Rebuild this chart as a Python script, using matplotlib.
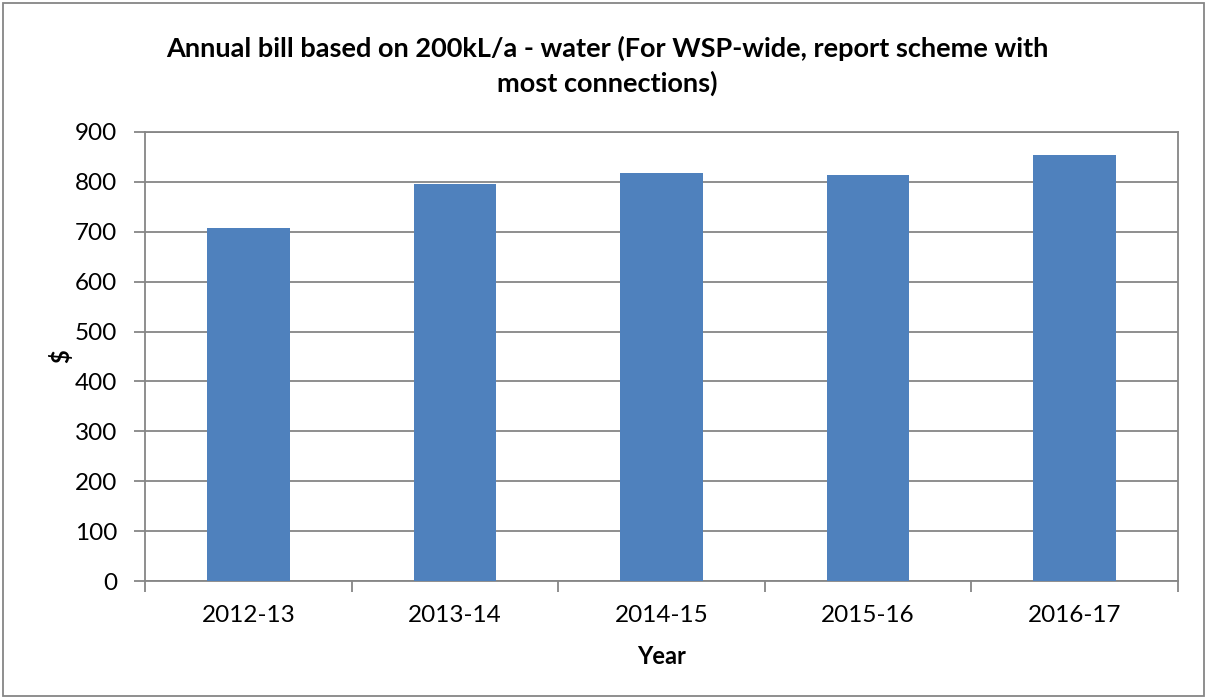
import matplotlib
matplotlib.use('Agg')
import matplotlib.pyplot as plt
from matplotlib.patches import Rectangle
import numpy as np

plt.rcParams['font.family'] = ['Lato', 'DejaVu Sans']

years = ['2012-13', '2013-14', '2014-15', '2015-16', '2016-17']
bill = [707, 796, 817, 813, 853]

grey = '#868686'

fig = plt.figure(figsize=(12.07, 6.99), dpi=100)
ax = fig.add_axes([145/1207, 1 - 581/699, (1178-145)/1207, (581-132)/699])

x = np.arange(len(years))
ax.bar(x, bill, width=0.4, color='#4F81BD', zorder=3)

ax.set_xlim(-0.5, len(years) - 0.5)
ax.set_ylim(0, 900)
ax.set_yticks(np.arange(0, 901, 100))
ax.set_xticks(x)
ax.set_xticklabels(years)
ax.set_xticks(np.arange(-0.5, len(years), 1), minor=True)
ax.tick_params(axis='x', which='major', length=0, pad=17, labelsize=17.5)
ax.tick_params(axis='x', which='minor', length=8, color=grey, width=1.3)
ax.tick_params(axis='y', length=8, color=grey, width=1.3, labelsize=17.5, pad=12)
ax.grid(axis='y', color=grey, lw=1.3, zorder=0)
for s in ax.spines.values():
    s.set_color(grey)
    s.set_linewidth(1.3)

ax.set_xlabel('Year', fontsize=17, fontweight='bold', labelpad=14)
ax.set_ylabel('$', fontsize=17, fontweight='bold', labelpad=1)

fig.text(607/1207, 1 - 48/699, 'Annual bill based on 200kL/a - water (For WSP-wide, report scheme with',
         ha='center', va='center', fontsize=19.5, fontweight='bold')
fig.text(607/1207, 1 - 83/699, 'most connections)',
         ha='center', va='center', fontsize=19.5, fontweight='bold')

fig.patches.append(Rectangle((3/1207, 3/699), 1201/1207, 693/699, transform=fig.transFigure,
                             fill=False, edgecolor=grey, lw=1.3))

fig.savefig('out.png', dpi=100)
